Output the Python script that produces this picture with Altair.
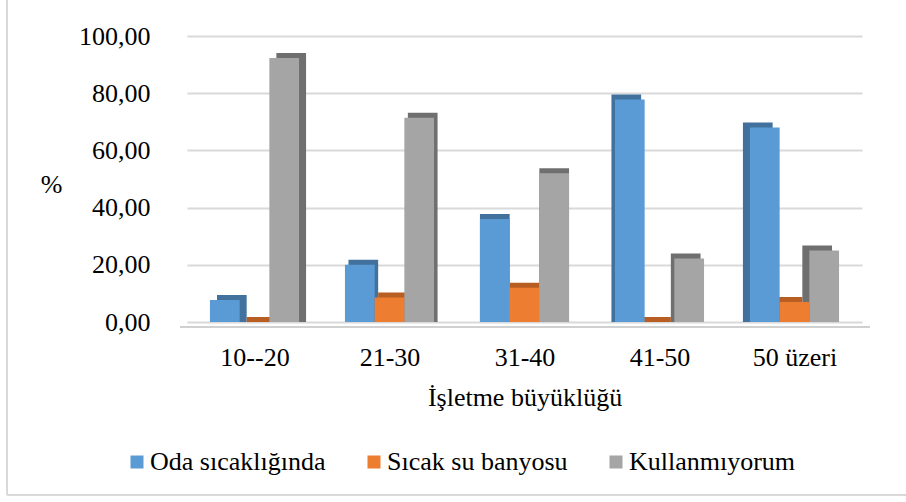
import json
import altair as alt
import pandas as pd

# Survey shares (%) by business size
groups = ["10--20", "21-30", "31-40", "41-50", "50 üzeri"]
series = ["Oda sıcaklığında", "Sıcak su banyosu", "Kullanmıyorum"]
oda = [7.69, 20.00, 36.00, 77.78, 68.00]
sicak = [0.00, 8.57, 12.00, 0.00, 7.00]
kullanmiyorum = [92.31, 71.43, 52.00, 22.22, 25.00]
y_ticks = [0, 20, 40, 60, 80, 100]

face = ["#5B9BD5", "#ED7D31", "#A5A5A5"]
shade = ["#41719C", "#B85E22", "#6F6F6F"]
FONT = "Liberation Serif"

rows = []
for si, (name, vals) in enumerate(zip(series, [oda, sicak, kullanmiyorum])):
    for gi, (g, v) in enumerate(zip(groups, vals)):
        rows.append({"group": g, "gi": gi, "series": name, "si": si, "value": v})
df = pd.DataFrame(rows)

W, H = 675, 286
LEFT, TOP = 187, 36

base = alt.Chart(df).transform_calculate(
    x0="datum.gi - 0.33 + datum.si * 0.22",
    x1="datum.gi - 0.33 + datum.si * 0.22 + 0.22",
    dx="-(datum.gi - 2) * 0.026",
).transform_calculate(
    bx0="datum.x0 + datum.dx",
    bx1="datum.x1 + datum.dx",
    zero="0",
)

xscale = alt.Scale(domain=[-0.5, 4.5], nice=False, zero=False)
yscale = alt.Scale(domain=[0, 100], nice=False)

label_lookup = json.dumps(groups, ensure_ascii=False)

x_axis = alt.Axis(
    values=[0, 1, 2, 3, 4],
    labelExpr=f"{label_lookup}[datum.value]",
    grid=False, domain=False, ticks=False,
    labelFont=FONT, labelFontSize=26, labelColor="#000000",
    labelPadding=22,
    title="İşletme büyüklüğü",
    titleFont=FONT, titleFontSize=26, titleFontWeight="normal",
    titleColor="#000000", titleBaseline="alphabetic", titleY=83,
)
y_axis = alt.Axis(
    values=y_ticks,
    labelExpr="replace(format(datum.value, '.2f'), '.', ',')",
    grid=True, gridColor="#d9d9d9", gridWidth=2,
    domain=False, ticks=False,
    labelFont=FONT, labelFontSize=26, labelColor="#000000",
    labelPadding=37,
    title="%", titleAngle=0, titleX=-136, titleY=148,
    titleAlign="center", titleBaseline="middle",
    titleFont=FONT, titleFontSize=26, titleFontWeight="normal",
    titleColor="#000000",
)

# darker extrusion drawn behind each bar (top and side faces)
depth = base.mark_bar(yOffset=-5).encode(
    x=alt.X("bx0:Q", scale=xscale, axis=x_axis),
    x2="bx1:Q",
    y=alt.Y("value:Q", scale=yscale, axis=y_axis),
    y2="zero:Q",
    color=alt.Color("series:N", scale=alt.Scale(domain=series, range=shade), legend=None),
)

front = base.mark_bar().encode(
    x=alt.X("x0:Q", scale=xscale, axis=x_axis),
    x2="x1:Q",
    y=alt.Y("value:Q", scale=yscale, axis=y_axis),
    y2="zero:Q",
    color=alt.Color(
        "series:N",
        scale=alt.Scale(domain=series, range=face),
        sort=series,
        legend=alt.Legend(
            title=None, orient="none", direction="horizontal",
            legendX=-63, legendY=413,
            symbolType="square", symbolSize=169, symbolStrokeWidth=0,
            labelFont=FONT, labelFontSize=26, labelColor="#000000",
            labelOffset=0, columnPadding=35, labelLimit=0,
        ),
    ),
)

# front edge of the floor
floor = alt.Chart(df).mark_rule(color="#d0d0d0", strokeWidth=2).encode(
    x=alt.value(-7),
    x2=alt.value(W + 8),
    y=alt.value(H + 5),
)

# outer frame (left and bottom edges fall inside the page)
frame_left = alt.Chart(df).mark_rule(color="#d9d9d9", strokeWidth=2).encode(
    x=alt.value(7 - LEFT),
    y=alt.value(-TOP),
    y2=alt.value(495 - TOP),
)
frame_bottom = alt.Chart(df).mark_rule(color="#d9d9d9", strokeWidth=2).encode(
    x=alt.value(7 - LEFT),
    x2=alt.value(906 - LEFT),
    y=alt.value(495 - TOP),
)

chart = alt.layer(frame_left, frame_bottom, floor, depth, front).resolve_scale(color="independent").properties(
    width=W,
    height=H,
    autosize=alt.AutoSizeParams(type="none"),
    padding={"left": LEFT, "top": TOP, "right": 906 - LEFT - W, "bottom": 502 - TOP - H},
    background="#ffffff",
).configure_view(stroke=None)

chart.save("out.html", embed_options={"renderer": "svg", "actions": False})
